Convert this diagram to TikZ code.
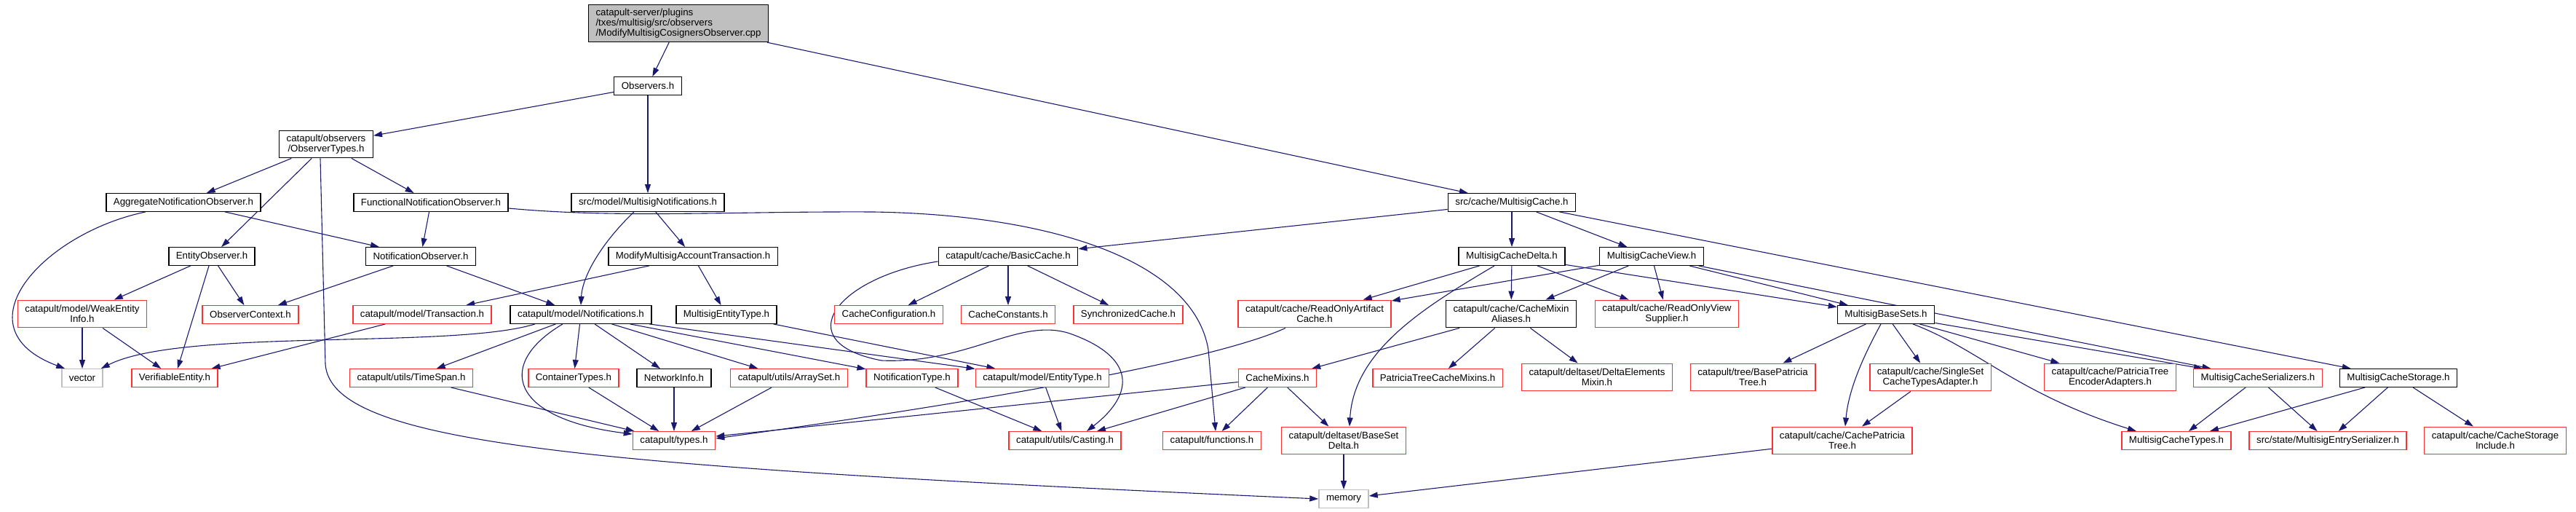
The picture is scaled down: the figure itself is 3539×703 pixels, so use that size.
\documentclass[tikz,border=0pt]{standalone}
\usepackage{fontspec}
\setmainfont{Liberation Sans}
\usepackage{tikz}
\usetikzlibrary{arrows.meta, backgrounds}
\definecolor{gvblue}{HTML}{191970}
\definecolor{gvred}{HTML}{FF3030}
\definecolor{gvgrey}{HTML}{BFBFBF}
\tikzset{
  file/.style={draw, rectangle, fill=white, align=center, line width=1.4pt,
    font=\fontsize{13.3}{13.7}\selectfont, inner xsep=10pt, inner ysep=2pt,
    minimum height=24.5pt},
  tall/.style={minimum height=37.5pt},
  docfile/.style={file, draw=black},
  trunc/.style={file, draw=gvred},
  sysfile/.style={file, draw=gvgrey},
  rootfile/.style={file, draw=black, fill=gvgrey, align=left, minimum height=51pt},
  dep/.style={draw=gvblue, line width=1.1pt, -{Triangle[length=12pt,width=8pt]}},
}
\begin{document}
\begin{tikzpicture}[x=1pt, y=-1pt]
      \useasboundingbox (0,0) rectangle (3539,703);
      \node[rootfile] (root) at (932,32)
        {catapult-server/plugins\\/txes/multisig/src/observers\\/ModifyMultisigCosignersObserver.cpp};
      \node[docfile] (obs) at (890,118) {Observers.h};
      \node[docfile, tall] (otypes) at (448,198) {catapult/observers\\/ObserverTypes.h};
      \node[docfile] (mcache) at (2077,278) {src/cache/MultisigCache.h};
      \node[docfile] (agg) at (252,278) {AggregateNotificationObserver.h};
      \node[docfile] (func) at (592,278) {FunctionalNotificationObserver.h};
      \node[docfile] (mnotif) at (890,278) {src/model/MultisigNotifications.h};
      \node[docfile] (entobs) at (291,352) {EntityObserver.h};
      \node[docfile] (nobs) at (578,352) {NotificationObserver.h};
      \node[docfile] (mmat) at (952,352) {ModifyMultisigAccountTransaction.h};
      \node[docfile] (basic) at (1385,352) {catapult/cache/BasicCache.h};
      \node[docfile] (mdelta) at (2077,352) {MultisigCacheDelta.h};
      \node[docfile] (mview) at (2269,352) {MultisigCacheView.h};
      \node[trunc, tall] (weak) at (113,431) {catapult/model/WeakEntity\\Info.h};
      \node[trunc] (octx) at (344,432) {ObserverContext.h};
      \node[trunc] (trans) at (580,432) {catapult/model/Transaction.h};
      \node[docfile] (notif) at (798,432) {catapult/model/Notifications.h};
      \node[docfile] (mentity) at (998,432) {MultisigEntityType.h};
      \node[trunc] (cconf) at (1221,432) {CacheConfiguration.h};
      \node[trunc] (cconst) at (1385,432) {CacheConstants.h};
      \node[trunc] (synch) at (1550,432) {SynchronizedCache.h};
      \node[trunc, tall] (racache) at (1806,431) {catapult/cache/ReadOnlyArtifact\\Cache.h};
      \node[docfile, tall] (cmalias) at (2076,431) {catapult/cache/CacheMixin\\Aliases.h};
      \node[trunc, tall] (rovs) at (2290,431) {catapult/cache/ReadOnlyView\\Supplier.h};
      \node[docfile] (mbase) at (2591,432) {MultisigBaseSets.h};
      \node[sysfile] (vector) at (113,519) {vector};
      \node[trunc] (verif) at (240,519) {VerifiableEntity.h};
      \node[trunc] (tspan) at (565,519) {catapult/utils/TimeSpan.h};
      \node[trunc] (ctypes) at (788,519) {ContainerTypes.h};
      \node[docfile] (netinfo) at (926,519) {NetworkInfo.h};
      \node[trunc] (aset) at (1084,519) {catapult/utils/ArraySet.h};
      \node[trunc] (ntype) at (1253,519) {NotificationType.h};
      \node[trunc] (etype) at (1432,519) {catapult/model/EntityType.h};
      \node[trunc] (cmixins) at (1755,519) {CacheMixins.h};
      \node[trunc] (ptcm) at (1975,519) {PatriciaTreeCacheMixins.h};
      \node[trunc, tall] (dem) at (2194,518) {catapult/deltaset/DeltaElements\\Mixin.h};
      \node[trunc, tall] (bptree) at (2408,518) {catapult/tree/BasePatricia\\Tree.h};
      \node[trunc, tall] (sscta) at (2652,518) {catapult/cache/SingleSet\\CacheTypesAdapter.h};
      \node[trunc, tall] (pteadapt) at (2899,518) {catapult/cache/PatriciaTree\\EncoderAdapters.h};
      \node[trunc] (mser) at (3102,519) {MultisigCacheSerializers.h};
      \node[docfile] (mstorage) at (3295,519) {MultisigCacheStorage.h};
      \node[trunc] (types) at (926,605) {catapult/types.h};
      \node[trunc] (casting) at (1463,605) {catapult/utils/Casting.h};
      \node[trunc] (functions) at (1665,605) {catapult/functions.h};
      \node[trunc, tall] (bsdelta) at (1846,605) {catapult/deltaset/BaseSet\\Delta.h};
      \node[trunc, tall] (cptree) at (2531,605) {catapult/cache/CachePatricia\\Tree.h};
      \node[trunc] (mctypes) at (2990,605) {MultisigCacheTypes.h};
      \node[trunc] (meser) at (3198,605) {src/state/MultisigEntrySerializer.h};
      \node[trunc, tall] (csinclude) at (3428,605) {catapult/cache/CacheStorage\\Include.h};
      \node[sysfile] (memory) at (1846,685) {memory};
      \begin{scope}[on background layer]
        \draw[dep] (root) -- (obs);
        \draw[dep] (root) -- (mcache);
        \draw[dep] (obs) -- (otypes);
        \draw[dep] (obs) -- (mnotif);
        \draw[dep] (otypes) -- (agg);
        \draw[dep] (otypes) -- (entobs);
        \draw[dep] (otypes) -- (func);
        \draw[dep] ([xshift=-8pt]otypes.south) -- (447,500) .. controls (455,610) and (800,640) .. (memory.west);
        \draw[dep] ([xshift=-52pt]agg.south) .. controls (60,320) and (-60,450) .. ([xshift=5pt]vector.north west);
        \draw[dep] (agg) -- (nobs);
        \draw[dep] (func) -- (nobs);
        \draw[dep] ([yshift=-8pt]func.east) .. controls (850,300) and (1000,290) .. (1200,291)
          .. controls (1450,295) and (1640,360) .. (1660,480) -- ([xshift=5pt]functions.north);
        \draw[dep] ([xshift=-19pt]mnotif.south) .. controls (825,335) and (800,380) .. (notif.north);
        \draw[dep] (mnotif) -- (mmat);
        \draw[dep] (entobs) -- (weak);
        \draw[dep] (entobs) -- (verif);
        \draw[dep] (entobs) -- (octx);
        \draw[dep] (nobs) -- (octx);
        \draw[dep] (nobs) -- (notif);
        \draw[dep] (mmat) -- (trans);
        \draw[dep] (mmat) -- (mentity);
        \draw[dep] (weak) -- (vector);
        \draw[dep] (weak) -- (verif);
        \draw[dep] (trans) -- (verif);
        \draw[dep] ([xshift=-63pt]notif.south) .. controls (620,480) and (250,450) .. ([xshift=-3pt]vector.north east);
        \draw[dep] (notif) -- (tspan);
        \draw[dep] ([xshift=-25pt]notif.south) .. controls (680,500) and (700,575) .. ([yshift=-4pt]types.north west);
        \draw[dep] (notif) -- (ctypes);
        \draw[dep] (notif) -- (netinfo);
        \draw[dep] (notif) -- (aset);
        \draw[dep] (notif) -- (ntype);
        \draw[dep] (notif) -- (etype);
        \draw[dep] (mentity) -- (etype);
        \draw[dep] (tspan) -- (types);
        \draw[dep] (ctypes) -- (types);
        \draw[dep] (netinfo) -- (types);
        \draw[dep] (aset) -- (types);
        \draw[dep] (ntype) -- (casting);
        \draw[dep] (etype) -- (casting);
        \draw[dep] (mcache) -- (basic);
        \draw[dep] (mcache) -- (mdelta);
        \draw[dep] (mcache) -- (mview);
        \draw[dep] (mcache) -- (mstorage);
        \draw[dep] (basic) -- (cconf);
        \draw[dep] (basic) -- (cconst);
        \draw[dep] (basic) -- (synch);
        \draw[dep] ([yshift=-7pt]basic.west) .. controls (1150,380) and (1080,470) .. (1211,495)
          .. controls (1330,500) and (1400,435) .. (1470,458)
          .. controls (1560,490) and (1560,540) .. ([xshift=30pt]casting.north);
        \draw[dep] (mdelta) -- (racache);
        \draw[dep] (mdelta) -- (cmalias);
        \draw[dep] (mdelta) -- (rovs);
        \draw[dep] (mdelta) -- (mbase);
        \draw[dep] ([xshift=-24pt]mdelta.south) .. controls (1960,420) and (1860,480) .. ([xshift=8pt]bsdelta.north);
        \draw[dep] (mview) -- (racache);
        \draw[dep] (mview) -- (cmalias);
        \draw[dep] (mview) -- (rovs);
        \draw[dep] (mview) -- (mbase);
        \draw[dep] (mview) -- (mser);
        \draw[dep] ([xshift=-40pt]racache.south) .. controls (1680,490) and (1400,545) .. ([yshift=3pt]types.east);
        \draw[dep] (cmalias) -- (cmixins);
        \draw[dep] (cmalias) -- (ptcm);
        \draw[dep] (cmalias) -- (dem);
        \draw[dep] (cmixins) -- (types);
        \draw[dep] (cmixins) -- (casting);
        \draw[dep] (cmixins) -- (functions);
        \draw[dep] (cmixins) -- (bsdelta);
        \draw[dep] (bsdelta) -- (memory);
        \draw[dep] (cptree) -- (memory);
        \draw[dep] (mbase) -- (bptree);
        \draw[dep] ([xshift=-7pt]mbase.south) .. controls (2565,480) and (2540,530) .. ([xshift=4pt]cptree.north);
        \draw[dep] (mbase) -- (sscta);
        \draw[dep] ([xshift=37pt]mbase.south) .. controls (2720,480) and (2770,540) .. ([xshift=-55pt]mctypes.north);
        \draw[dep] (mbase) -- (pteadapt);
        \draw[dep] (mbase) -- (mser);
        \draw[dep] (sscta) -- (cptree);
        \draw[dep] (mser) -- (mctypes);
        \draw[dep] (mser) -- (meser);
        \draw[dep] (mstorage) -- (mctypes);
        \draw[dep] (mstorage) -- (meser);
        \draw[dep] (mstorage) -- (csinclude);
      \end{scope}
    \end{tikzpicture}
\end{document}
